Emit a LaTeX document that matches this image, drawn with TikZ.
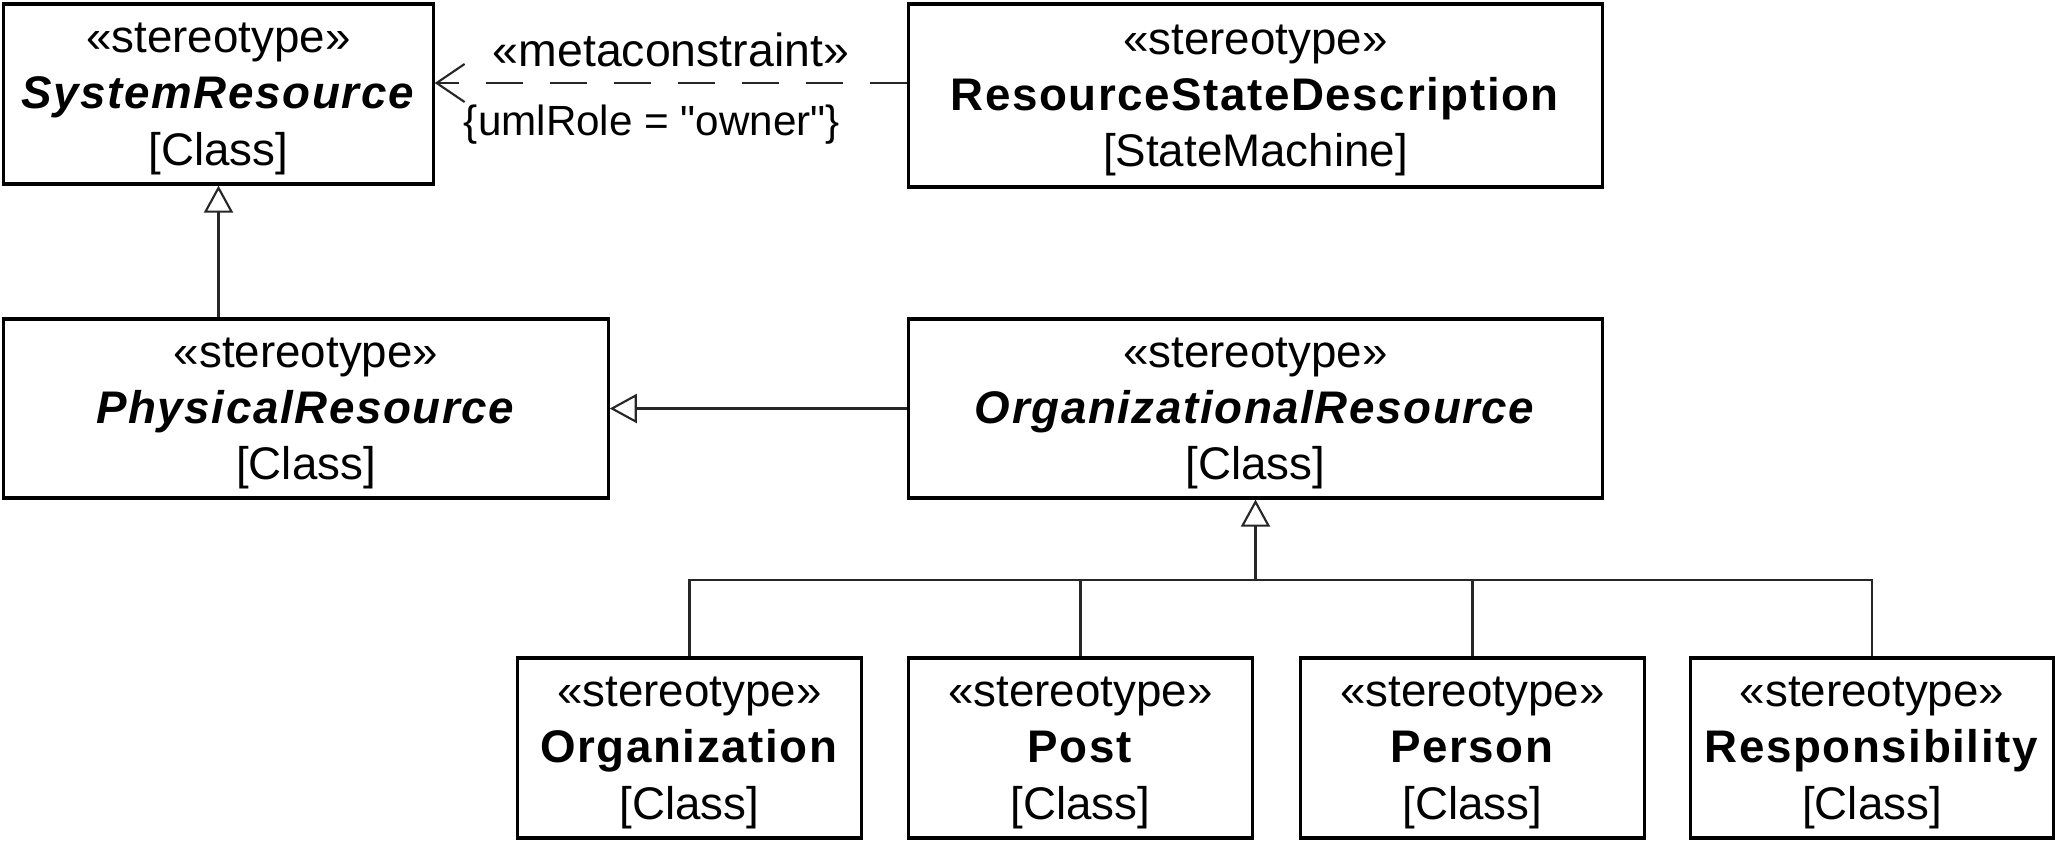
\documentclass[tikz,border=0pt]{standalone}
\usepackage{fontspec}
\setmainfont{Liberation Sans}[Ligatures=TeXOff,
  BoldFeatures={LetterSpace=3.5}, BoldItalicFeatures={LetterSpace=3.5}]
\usetikzlibrary{arrows.meta}
\begin{document}
\begin{tikzpicture}[x=0.01cm, y=-0.01cm,
  umlbox/.style={draw=black, line width=0.9pt, fill=white, rectangle, align=center,
    inner sep=0pt, text depth=0pt, font=\fontsize{13pt}{16pt}\selectfont},
  conn/.style={draw=black!85, line width=0.6pt},
  gen/.style={conn, -{Triangle[open, length=0.27cm, width=0.29cm, fill=white]}},
  dep/.style={conn, dash pattern=on 0.37cm off 0.27cm,
    -{Straight Barb[length=0.28cm, width=0.38cm]}},
  lbl/.style={font=\fontsize{13.2pt}{15.4pt}\selectfont, inner sep=1pt},
  lblsmall/.style={font=\fontsize{12pt}{14pt}\selectfont, inner sep=1pt}
]
\useasboundingbox[fill=white] (0,0) rectangle (2056,841);

% stereotype boxes
\node[umlbox, minimum width=4.29cm, minimum height=1.80cm] (sys) at (218.5,94)
  {«stereotype»\\\textbf{\textit{SystemResource}}\\{[}Class{]}};
\node[umlbox, minimum width=6.93cm, minimum height=1.83cm] (rsd) at (1255.5,95.5)
  {«stereotype»\\\textbf{ResourceStateDescription}\\{[}StateMachine{]}};
\node[umlbox, minimum width=6.04cm, minimum height=1.79cm] (phys) at (306,408.5)
  {«stereotype»\\\textbf{\textit{PhysicalResource}}\\{[}Class{]}};
\node[umlbox, minimum width=6.93cm, minimum height=1.79cm] (orgres) at (1255.5,408.5)
  {«stereotype»\\\textbf{\textit{OrganizationalResource}}\\{[}Class{]}};

\node[umlbox, minimum width=3.43cm, minimum height=1.80cm] (organization) at (689.5,748)
  {«stereotype»\\\textbf{Organization}\\{[}Class{]}};
\node[umlbox, minimum width=3.43cm, minimum height=1.80cm] (post) at (1080.5,748)
  {«stereotype»\\\textbf{Post}\\{[}Class{]}};
\node[umlbox, minimum width=3.43cm, minimum height=1.80cm] (person) at (1472.5,748)
  {«stereotype»\\\textbf{Person}\\{[}Class{]}};
\node[umlbox, minimum width=3.62cm, minimum height=1.80cm] (resp) at (1872,748)
  {«stereotype»\\\textbf{Responsibility}\\{[}Class{]}};

% generalizations
\draw[gen] (phys.north -| sys.south) -- (sys.south);
\draw[gen] (orgres.west) -- (orgres.west -| phys.east);

\coordinate (bus) at (1255.5,580);
\draw[gen] (bus) -- (orgres.south);
\draw[conn] (organization.north) |- (resp.north |- bus) -- (resp.north);
\draw[conn] (post.north) -- (post.north |- bus);
\draw[conn] (person.north) -- (person.north |- bus);

% metaconstraint dependency
\draw[dep] ([yshift=0.125cm]rsd.west) -- ([yshift=0.125cm]rsd.west -| sys.east)
  node[lbl, midway, yshift=0.33cm] {«metaconstraint»}
  node[lblsmall, midway, xshift=-0.19cm, yshift=-0.42cm] {\{umlRole = "owner"\}};
\end{tikzpicture}
\end{document}
